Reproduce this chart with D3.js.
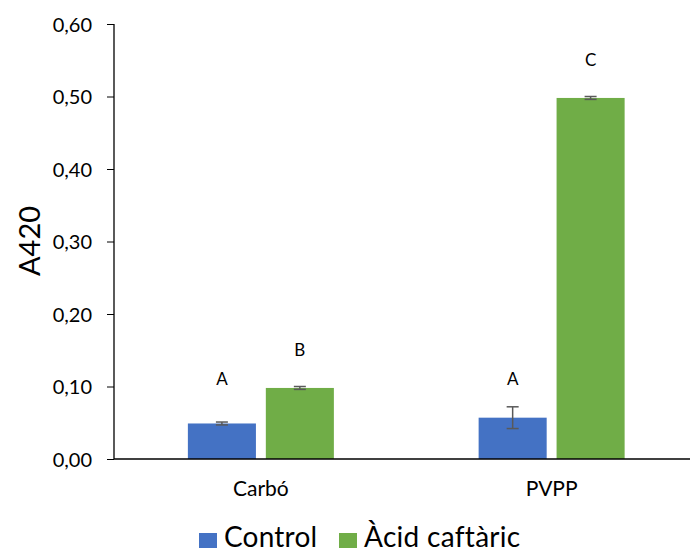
<!DOCTYPE html>
<html>
<head>
<meta charset="utf-8">
<script src="https://cdn.jsdelivr.net/npm/d3@7"></script>
<style>
  body { margin: 0; background: #fff; }
  text { font-family: Lato, "Open Sans", sans-serif; fill: #000; }
</style>
</head>
<body>
<div id="chart"></div>
<script>
// data
var categories = ["Carbó", "PVPP"];
var seriesNames = ["Control", "Àcid caftàric"];
var seriesColors = ["#4472C4", "#70AD47"];
var controlValues = [0.049, 0.057];
var controlErrors = [0.002, 0.015];
var caftaricValues = [0.098, 0.498];
var caftaricErrors = [0.002, 0.002];
var letters = [["A", "B"], ["A", "C"]];
var letterLevels = [[0.11, 0.15], [0.11, 0.55]];
var yTicks = [0, 0.1, 0.2, 0.3, 0.4, 0.5, 0.6];

var width = 690, height = 554;

var svg = d3.select("#chart").append("svg")
    .attr("width", width)
    .attr("height", height);

var x = d3.scaleBand()
    .domain(categories)
    .range([115.5, 697]);

var x1 = d3.scaleBand()
    .domain(seriesNames)
    .range([0, 146])
    .paddingInner(0.127);

var y = d3.scaleLinear()
    .domain([0, 0.6])
    .range([459, 24]);

var rows = [];
categories.forEach(function (c, i) {
    rows.push({ cat: c, s: 0, v: controlValues[i], e: controlErrors[i], lab: letters[i][0], lv: letterLevels[i][0] });
    rows.push({ cat: c, s: 1, v: caftaricValues[i], e: caftaricErrors[i], lab: letters[i][1], lv: letterLevels[i][1] });
});

function barX(d) {
    return x(d.cat) + x.bandwidth() / 2 - 73 + x1(seriesNames[d.s]);
}

// bars
svg.selectAll("rect.bar")
    .data(rows)
    .enter().append("rect")
    .attr("class", "bar")
    .attr("x", barX)
    .attr("width", x1.bandwidth())
    .attr("y", function (d) { return y(d.v); })
    .attr("height", function (d) { return y(0) - y(d.v); })
    .attr("fill", function (d) { return seriesColors[d.s]; });

// error bars
var eb = svg.selectAll("g.err")
    .data(rows)
    .enter().append("g")
    .attr("class", "err")
    .attr("stroke", "#595959")
    .attr("stroke-width", 1.5);

eb.append("line")
    .attr("x1", function (d) { return barX(d) + x1.bandwidth() / 2; })
    .attr("x2", function (d) { return barX(d) + x1.bandwidth() / 2; })
    .attr("y1", function (d) { return y(d.v + d.e); })
    .attr("y2", function (d) { return y(d.v - d.e); });

[1, -1].forEach(function (sign) {
    eb.append("line")
        .attr("x1", function (d) { return barX(d) + x1.bandwidth() / 2 - 6; })
        .attr("x2", function (d) { return barX(d) + x1.bandwidth() / 2 + 6; })
        .attr("y1", function (d) { return y(d.v + sign * d.e); })
        .attr("y2", function (d) { return y(d.v + sign * d.e); });
});

// significance letters
svg.selectAll("text.letter")
    .data(rows)
    .enter().append("text")
    .attr("class", "letter")
    .attr("x", function (d) { return barX(d) + x1.bandwidth() / 2; })
    .attr("y", function (d) { return y(d.lv); })
    .attr("dy", "0.36em")
    .attr("text-anchor", "middle")
    .style("font-size", "17px")
    .text(function (d) { return d.lab; });

// y axis
var yAxis = svg.append("g")
    .attr("transform", "translate(114,0)")
    .call(d3.axisLeft(y).tickValues(yTicks).tickSize(7).tickPadding(15)
        .tickFormat(function (d) { return d3.format(".2f")(d).replace(".", ","); }));
yAxis.select(".domain").attr("stroke", "#000").attr("stroke-width", 1.3)
    .attr("d", "M0,24V459");
yAxis.selectAll(".tick line").attr("stroke", "#000");
yAxis.selectAll(".tick text").style("font-size", "20px").attr("dy", "0.36em");

// x axis
var xAxis = svg.append("g")
    .attr("transform", "translate(0,459)")
    .call(d3.axisBottom(x).tickSize(0).tickPadding(22));
xAxis.select(".domain").attr("stroke", "#000").attr("stroke-width", 1.3)
    .attr("d", "M114,0H690");
xAxis.selectAll(".tick text").style("font-size", "21px");

// y title
svg.append("text")
    .attr("transform", "translate(30,241) rotate(-90)")
    .attr("text-anchor", "middle")
    .attr("dy", "0.36em")
    .style("font-size", "29px")
    .text("A420");

// legend
var legendX = [199, 339];
var legend = svg.selectAll("g.legend")
    .data(seriesNames)
    .enter().append("g")
    .attr("class", "legend")
    .attr("transform", function (d, i) { return "translate(" + legendX[i] + ",533)"; });

legend.append("rect")
    .attr("width", 18)
    .attr("height", 15)
    .attr("fill", function (d, i) { return seriesColors[i]; });

legend.append("text")
    .attr("x", 25)
    .attr("y", 14)
    .style("font-size", "28px")
    .style("letter-spacing", function (d, i) { return i === 1 ? "0.3px" : "0.2px"; })
    .text(function (d) { return d; });
</script>
</body>
</html>
